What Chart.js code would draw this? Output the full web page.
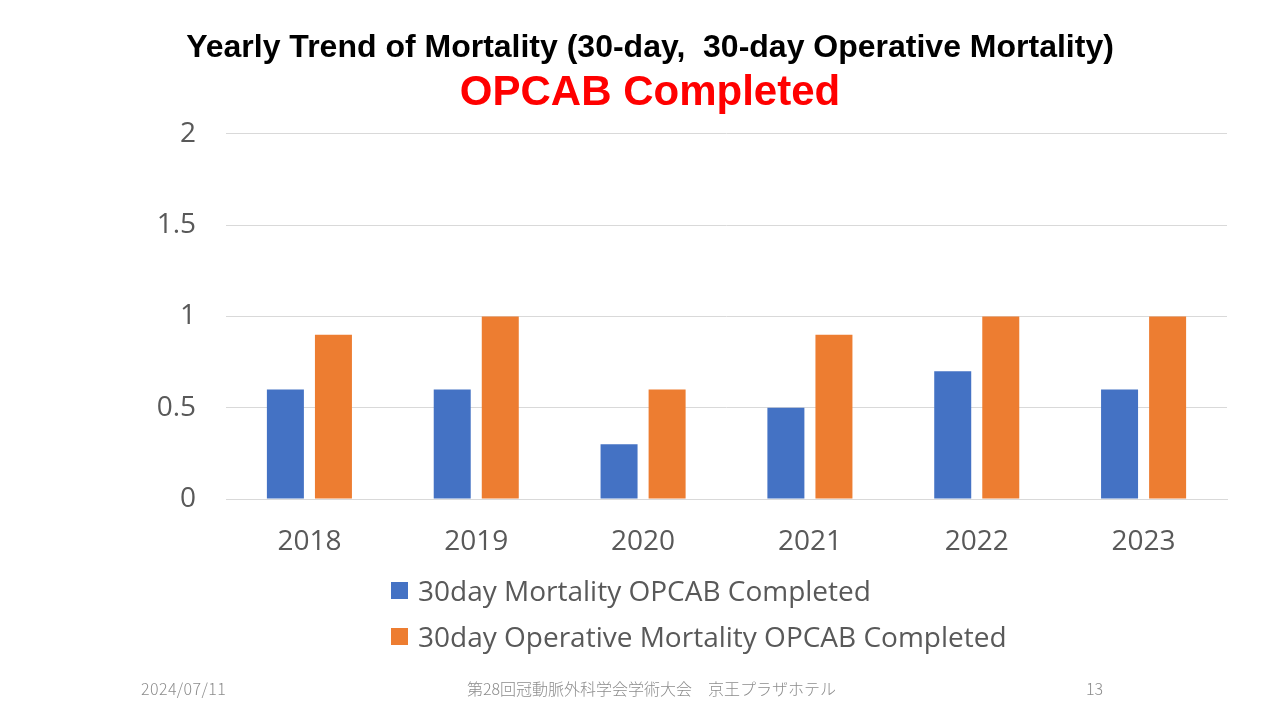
<!DOCTYPE html>
<html>
<head>
<meta charset="utf-8">
<script src="https://cdn.jsdelivr.net/npm/chart.js@4"></script>
<style>
  html, body { margin: 0; padding: 0; background: #fff; }
  #wrap { position: relative; width: 1280px; height: 720px; overflow: hidden; }
  #chart { position: absolute; left: 0; top: 0; }
  #legend { position: absolute; left: 391px; top: 567px; font-family: "Open Sans", sans-serif; font-size: 28px; color: #595959; }
  #legend .item { display: flex; align-items: center; height: 46px; }
  #legend .box { width: 17px; height: 17px; margin-right: 10px; }
  .foot { position: absolute; top: 676px; font-family: "Noto Sans CJK JP", sans-serif; font-size: 16px; color: #8c8c8c; font-weight: 300; }
</style>
</head>
<body>
<div id="wrap">
  <canvas id="chart" width="1280" height="720"></canvas>
  <div id="legend"></div>
  <div class="foot" style="left:141px; letter-spacing:0.4px">2024/07/11</div>
  <div class="foot" style="left:467px">第28回冠動脈外科学会学術大会　京王プラザホテル</div>
  <div class="foot" style="left:1086px">13</div>
</div>
<script>
// chart values
const years = ['2018', '2019', '2020', '2021', '2022', '2023'];
const mortality30 = [0.6, 0.6, 0.3, 0.5, 0.7, 0.6];
const operativeMortality30 = [0.9, 1, 0.6, 0.9, 1, 1];
const seriesNames = ['30day Mortality OPCAB Completed', '30day Operative Mortality OPCAB Completed'];
const seriesColors = ['#4472C4', '#ED7D31'];

const tickColor = '#595959';
const tickFont = { family: '"Open Sans", sans-serif', size: 28 };

const chart = new Chart(document.getElementById('chart').getContext('2d'), {
  type: 'bar',
  data: {
    labels: years,
    datasets: [
      { label: seriesNames[0], data: mortality30, backgroundColor: seriesColors[0] },
      { label: seriesNames[1], data: operativeMortality30, backgroundColor: seriesColors[1] }
    ]
  },
  options: {
    responsive: false,
    animation: false,
    categoryPercentage: 0.576,
    barPercentage: 0.77,
    // left/right padding offset so titles centre at ~650px
    layout: { padding: { left: 73, right: 53, top: 0, bottom: 151 } },
    plugins: {
      legend: { display: false },
      tooltip: { enabled: false },
      title: {
        display: true,
        text: 'Yearly Trend of Mortality (30-day,  30-day Operative Mortality)',
        color: '#000',
        font: { family: '"Liberation Sans", Arial, sans-serif', size: 32, weight: 'bold' },
        padding: { top: 29, bottom: 0 }
      },
      subtitle: {
        display: true,
        text: 'OPCAB Completed',
        color: '#FF0000',
        font: { family: '"Liberation Sans", Arial, sans-serif', size: 42, weight: 'bold' },
        padding: { top: 1, bottom: 15 }
      }
    },
    scales: {
      x: {
        grid: { display: false },
        border: { color: '#D9D9D9' },
        ticks: { color: tickColor, font: tickFont, padding: 18 },
        afterFit: s => { s.height = 70; }
      },
      y: {
        min: 0,
        max: 2,
        ticks: { stepSize: 0.5, color: tickColor, font: tickFont, padding: 30, callback: v => String(v) },
        grid: { color: '#D9D9D9', drawTicks: false },
        border: { display: false },
        afterFit: s => { s.width = 153; }
      }
    }
  }
});

// legend built from the datasets
const legendEl = document.getElementById('legend');
chart.data.datasets.forEach(ds => {
  const item = document.createElement('div');
  item.className = 'item';
  const box = document.createElement('span');
  box.className = 'box';
  box.style.background = ds.backgroundColor;
  const txt = document.createElement('span');
  txt.textContent = ds.label;
  item.appendChild(box);
  item.appendChild(txt);
  legendEl.appendChild(item);
});
</script>
</body>
</html>
